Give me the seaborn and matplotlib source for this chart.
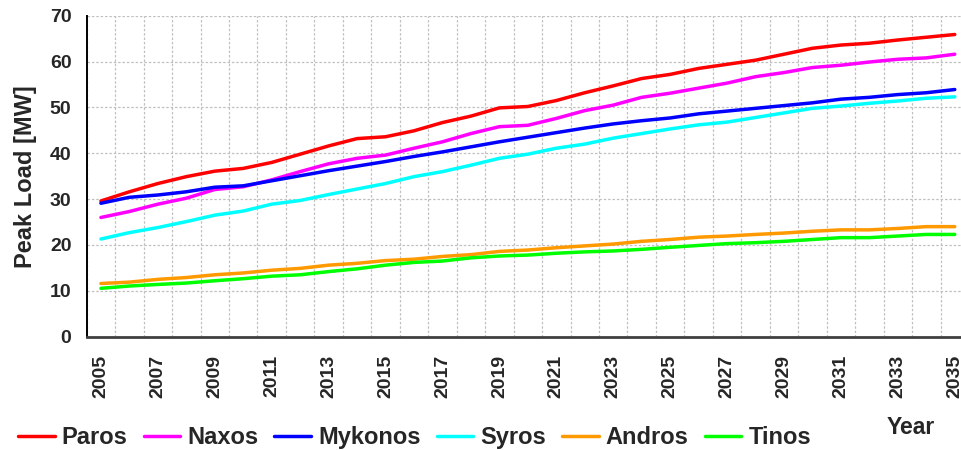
import matplotlib
matplotlib.use('Agg')
import matplotlib.pyplot as plt
import seaborn as sns
import numpy as np
import pandas as pd

years = list(range(2005, 2036))

paros = [29.6, 31.6, 33.4, 34.9, 36.1, 36.7, 38.0, 39.8, 41.6, 43.2, 43.6,
         44.9, 46.7, 48.1, 49.9, 50.2, 51.5, 53.2, 54.7, 56.3, 57.2,
         58.5, 59.4, 60.3, 61.6, 62.9, 63.6, 64.0, 64.7, 65.3, 65.9]
naxos = [26.0, 27.3, 28.9, 30.2, 32.1, 32.7, 34.2, 36.0, 37.7, 38.9, 39.6,
         41.1, 42.5, 44.3, 45.8, 46.1, 47.6, 49.3, 50.5, 52.2, 53.1,
         54.2, 55.3, 56.7, 57.6, 58.7, 59.2, 59.9, 60.5, 60.8, 61.6]
mykonos = [29.1, 30.4, 30.9, 31.6, 32.6, 32.9, 34.0, 35.1, 36.2, 37.2, 38.2,
           39.3, 40.3, 41.4, 42.5, 43.5, 44.5, 45.5, 46.4, 47.1, 47.7,
           48.6, 49.2, 49.8, 50.4, 51.0, 51.8, 52.2, 52.8, 53.2, 53.9]
syros = [21.3, 22.7, 23.8, 25.1, 26.5, 27.4, 28.9, 29.7, 31.0, 32.2, 33.4,
         34.9, 36.0, 37.4, 38.9, 39.8, 41.1, 42.0, 43.3, 44.3, 45.3,
         46.2, 46.8, 47.8, 48.8, 49.8, 50.3, 50.9, 51.4, 52.0, 52.3]
andros = [11.6, 11.9, 12.5, 12.9, 13.5, 13.9, 14.5, 14.9, 15.6, 16.0, 16.6,
          16.9, 17.5, 17.9, 18.6, 18.9, 19.4, 19.8, 20.2, 20.8, 21.2,
          21.7, 21.95, 22.3, 22.6, 23.0, 23.3, 23.3, 23.6, 24.0, 24.0]
tinos = [10.55, 11.05, 11.4, 11.7, 12.2, 12.65, 13.2, 13.5, 14.2, 14.8, 15.6,
         16.2, 16.5, 17.2, 17.6, 17.8, 18.2, 18.5, 18.7, 19.05, 19.5,
         19.9, 20.3, 20.5, 20.8, 21.2, 21.6, 21.6, 21.95, 22.3, 22.3]

islands = ['Paros', 'Naxos', 'Mykonos', 'Syros', 'Andros', 'Tinos']
colors = ['#FF0000', '#FF00FF', '#0000FF', '#00FFFF', '#FF9900', '#00FF00']

series = [paros, naxos, mykonos, syros, andros, tinos]
df = pd.DataFrame({
    'Year': years * len(islands),
    'Load': np.concatenate(series),
    'Island': np.repeat(islands, len(years)),
})

sns.set_style('white')
plt.rcParams['font.family'] = ['Liberation Sans', 'DejaVu Sans']
plt.rcParams['font.weight'] = 'bold'

fig = plt.figure(figsize=(9.61, 4.5), dpi=100)
ax = fig.add_axes([86.7 / 961, 1 - 336.7 / 450, (969 - 86.7) / 961, 321 / 450])

sns.lineplot(data=df, x='Year', y='Load', hue='Island', hue_order=islands,
             palette=colors, linewidth=2.5, ax=ax)

ax.set_xlim(2004.5, 2035.5)
ax.set_ylim(0, 70)
ax.set_yticks(range(0, 71, 10))
ax.set_xticks(years[::2])
ax.set_xticklabels([str(y) for y in years[::2]], rotation=90, fontsize=14,
                   fontweight='bold')
ax.set_xticks(np.arange(2004.5, 2036, 1), minor=True)
ax.tick_params(axis='x', which='major', length=0, pad=13)
ax.tick_params(axis='x', which='minor', length=6, width=1.3, color='#333333',
               direction='out')
ax.tick_params(axis='y', which='major', length=6, width=1.0, color='#333333',
               direction='out', labelsize=14, pad=5)
for lab in ax.get_yticklabels():
    lab.set_fontweight('bold')

ax.grid(False)
ax.grid(True, axis='y', which='major', color='#c0c0c0', linestyle=(0, (2, 1.5)),
        linewidth=0.9)
ax.grid(True, axis='x', which='minor', color='#c0c0c0', linestyle=(0, (2, 1.5)),
        linewidth=0.9)

for s in ['top', 'right']:
    ax.spines[s].set_visible(False)
ax.spines['left'].set_color('#000000')
ax.spines['left'].set_linewidth(1.4)
ax.spines['bottom'].set_color('#404040')
ax.spines['bottom'].set_linewidth(2.0)

ax.set_xlabel('')
ax.set_ylabel('Peak Load [MW]', fontsize=17, fontweight='bold', labelpad=9)

handles, labels = ax.get_legend_handles_labels()
ax.legend(handles, labels, loc='center left', ncol=6, frameon=False,
          bbox_to_anchor=(18 / 961, 1 - 437.7 / 450), bbox_transform=fig.transFigure,
          borderaxespad=0, borderpad=0, handlelength=1.55, handletextpad=0.3,
          columnspacing=0.68, prop={'size': 17, 'weight': 'bold'})
for line in ax.get_legend().get_lines():
    line.set_linewidth(2.5)

fig.text(911 / 961, 1 - 434.5 / 450, 'Year', ha='center', va='baseline',
         fontsize=16.5, fontweight='bold')

fig.savefig('out.png', dpi=100)
